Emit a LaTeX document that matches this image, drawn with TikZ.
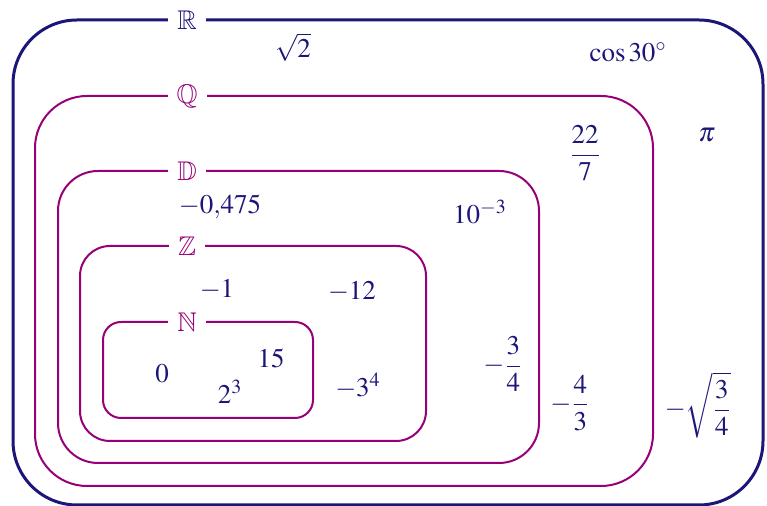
\documentclass[tikz,border=0pt]{standalone}
\usepackage{mathptmx}
\usepackage{amssymb}

\definecolor{bleu}{RGB}{28,22,120}
\definecolor{prune}{RGB}{150,0,120}

\tikzset{
  ensemble/.style={fill=white, inner xsep=4.5pt, inner ysep=1pt},
  nombre/.style={text=bleu}
}

\begin{document}
\begin{tikzpicture}[x=0.5pt, y=-0.5pt, every node/.style={font=\fontsize{13.5}{16}\selectfont}]
    \useasboundingbox (0,0) rectangle (767,506);
    % les ensembles
    \draw[draw=bleu, line width=1.5pt, rounded corners=32pt] (13,20) rectangle (763,505);
    \draw[draw=prune, line width=1pt, rounded corners=26pt] (35,96) rectangle (653,486);
    \draw[draw=prune, line width=1pt, rounded corners=20pt] (58,171) rectangle (539,463);
    \draw[draw=prune, line width=1pt, rounded corners=15pt] (80,246) rectangle (426,441);
    \draw[draw=prune, line width=1pt, rounded corners=9pt] (103,322) rectangle (313,418);
    \node[ensemble, text=bleu] (R) at (187,20) {$\mathbb{R}$};
    \node[ensemble, text=prune] (Q) at (187,96) {$\mathbb{Q}$};
    \node[ensemble, text=prune] (D) at (187,171) {$\mathbb{D}$};
    \node[ensemble, text=prune] (Z) at (187,246) {$\mathbb{Z}$};
    \node[ensemble, text=prune] (N) at (187,322) {$\mathbb{N}$};
    % les nombres
    \node[nombre] (racine) at (293,47) {$\sqrt{2}$};
    \node[nombre] (cosinus) at (628,52) {$\cos 30^\circ$};
    \node[nombre] (pi) at (707,135) {$\pi$};
    \node[nombre] (vingtdeux) at (585,153) {$\displaystyle\frac{22}{7}$};
    \node[nombre] (decimal) at (220,207) {$-0{,}475$};
    \node[nombre] (puissance) at (480,212) {$10^{-3}$};
    \node[nombre] (moinsun) at (217,290) {$-1$};
    \node[nombre] (moinsdouze) at (352,292) {$-12$};
    \node[nombre] (zero) at (162,374) {$0$};
    \node[nombre] (quinze) at (271,358) {$15$};
    \node[nombre] (cube) at (230,392) {$2^3$};
    \node[nombre] (moinstrois) at (358,386) {$-3^4$};
    \node[nombre] (troisquarts) at (503,364) {$\displaystyle -\frac{3}{4}$};
    \node[nombre] (quatretiers) at (570,403) {$\displaystyle -\frac{4}{3}$};
    \node[nombre] (racinefrac) at (698,405) {$\displaystyle -\sqrt{\frac{3}{4}}$};
\end{tikzpicture}
\end{document}
